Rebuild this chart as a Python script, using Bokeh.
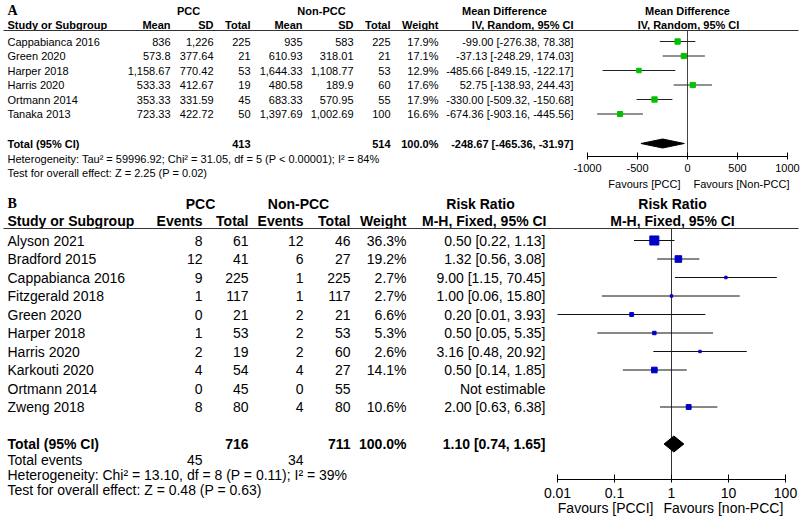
import math
from bokeh.plotting import figure
from bokeh.models import (Range1d, LinearAxis, LogAxis, LinearScale, LogScale,
                          FixedTicker, CustomJSTickFormatter)
from bokeh.core.properties import value
from bokeh.embed import file_html
from bokeh.resources import INLINE

# ---------------- Panel A data (Mean Difference) ----------------
studies_a = ["Cappabianca 2016", "Green 2020", "Harper 2018", "Harris 2020",
             "Ortmann 2014", "Tanaka 2013"]
pcc_mean_a = ["836", "573.8", "1,158.67", "533.33", "353.33", "723.33"]
pcc_sd_a = ["1,226", "377.64", "770.42", "412.67", "331.59", "422.72"]
pcc_total_a = [225, 21, 53, 19, 45, 50]
non_mean_a = ["935", "610.93", "1,644.33", "480.58", "683.33", "1,397.69"]
non_sd_a = ["583", "318.01", "1,108.77", "189.9", "570.95", "1,002.69"]
non_total_a = [225, 21, 53, 60, 55, 100]
weight_a = [17.9, 17.1, 12.9, 17.6, 17.9, 16.6]
md_a = [-99.00, -37.13, -485.66, 52.75, -330.00, -674.36]
md_lo_a = [-276.38, -248.29, -849.15, -138.93, -509.32, -903.16]
md_hi_a = [78.38, 174.03, -122.17, 244.43, -150.68, -445.56]
pooled_a = [-248.67, -465.36, -31.97]      # estimate, lower, upper
totals_a = [413, 514]
het_a = "Heterogeneity: Tau² = 59996.92; Chi² = 31.05, df = 5 (P < 0.00001); I² = 84%"
test_a = "Test for overall effect: Z = 2.25 (P = 0.02)"
ticks_a = [-1000, -500, 0, 500, 1000]

# ---------------- Panel B data (Risk Ratio) ----------------
studies_b = ["Alyson 2021", "Bradford 2015", "Cappabianca 2016", "Fitzgerald 2018",
             "Green 2020", "Harper 2018", "Harris 2020", "Karkouti 2020",
             "Ortmann 2014", "Zweng 2018"]
pcc_events_b = [8, 12, 9, 1, 0, 1, 2, 4, 0, 8]
pcc_total_b = [61, 41, 225, 117, 21, 53, 19, 54, 45, 80]
non_events_b = [12, 6, 1, 1, 2, 2, 2, 4, 0, 4]
non_total_b = [46, 27, 225, 117, 21, 53, 60, 27, 55, 80]
weight_b = [36.3, 19.2, 2.7, 2.7, 6.6, 5.3, 2.6, 14.1, None, 10.6]
rr_b = [0.50, 1.32, 9.00, 1.00, 0.20, 0.50, 3.16, 0.50, None, 2.00]
rr_lo_b = [0.22, 0.56, 1.15, 0.06, 0.01, 0.05, 0.48, 0.14, None, 0.63]
rr_hi_b = [1.13, 3.08, 70.45, 15.80, 3.93, 5.35, 20.92, 1.85, None, 6.38]
pooled_b = [1.10, 0.74, 1.65]
totals_b = [716, 711]
events_b = [45, 34]
het_b = "Heterogeneity: Chi² = 13.10, df = 8 (P = 0.11); I² = 39%"
test_b = "Test for overall effect: Z = 0.48 (P = 0.63)"
ticks_b = [0.01, 0.1, 1, 10, 100]

# ---------------- layout (picture pixel coordinates) ----------------
X0, Y0, W, H = 0, 0, 800, 520
FONT = "Liberation Sans"
SERIF = "Liberation Serif"
FS_A, FS_B = 11, 14
# panel A
A_H1, A_H2, A_LINE = 10, 24, 30
A_ROW0, A_STEP = 41, 14.5
A_TOTAL, A_HET, A_TEST = 143, 158.5, 172.5
A_AXIS, A_FAV = 156, 183
MD_ZERO_X, MD_PX = 687, 0.1
# panel B
B_H1, B_H2, B_LINE = 203, 220, 228
B_ROW0, B_STEP = 240, 18.5
B_TOTAL, B_EVENTS, B_HET, B_TEST = 443.5, 459, 474, 489
B_AXIS, B_FAV = 479, 507
RR_ONE_X, RR_DEC = 671, 57

p = figure(width=W, height=H, x_range=Range1d(X0, X0 + W), y_range=Range1d(Y0 + H, Y0),
           x_axis_type=None, y_axis_type=None, output_backend="svg",
           toolbar_location=None, min_border=0, outline_line_color=None)
p.grid.grid_line_color = None
p.extra_x_ranges = {
    "md": Range1d((X0 - MD_ZERO_X) / MD_PX, (X0 + W - MD_ZERO_X) / MD_PX),
    "rr": Range1d(10 ** ((X0 - RR_ONE_X) / RR_DEC), 10 ** ((X0 + W - RR_ONE_X) / RR_DEC)),
}
p.extra_x_scales = {"md": LinearScale(), "rr": LogScale()}


def txt(x, y, texts, align="left", size=FS_A, bold=False, font=FONT):
    n = len(texts)
    xs = x if isinstance(x, list) else [x] * n
    ys = y if isinstance(y, list) else [y] * n
    p.text(x=xs, y=ys, text=[str(t) for t in texts], text_align=align,
           text_baseline="middle", text_font=value(font),
           text_font_size=f"{size}px", text_font_style="bold" if bold else "normal",
           text_color="black")


# ======================= PANEL A =======================
ya = [A_ROW0 + i * A_STEP for i in range(len(studies_a))]
txt(7, A_H1, ["A"], size=14, bold=True, font=SERIF)
txt(188, A_H1, ["PCC"], "center", bold=True)
txt(321, A_H1, ["Non-PCC"], "center", bold=True)
txt(504, A_H1, ["Mean Difference"], "center", bold=True)
txt(687, A_H1, ["Mean Difference"], "center", bold=True)
txt(7, A_H2, ["Study or Subgroup"], bold=True)
for x, lab in [(170, "Mean"), (213, "SD"), (250, "Total"), (302, "Mean"), (353, "SD"),
               (390, "Total"), (438, "Weight"), (573, "IV, Random, 95% CI")]:
    txt(x, A_H2, [lab], "right", bold=True)
txt(688, A_H2, ["IV, Random, 95% CI"], "center", bold=True)
p.segment(x0=[3], x1=[798], y0=[A_LINE], y1=[A_LINE], line_color="#333333", line_width=1)

txt(7, ya, studies_a)
txt(170, ya, pcc_mean_a, "right")
txt(213, ya, pcc_sd_a, "right")
txt(250, ya, pcc_total_a, "right")
txt(302, ya, non_mean_a, "right")
txt(353, ya, non_sd_a, "right")
txt(390, ya, non_total_a, "right")
txt(438, ya, [f"{w:.1f}%" for w in weight_a], "right")
txt(573, ya, [f"{m:.2f} [{l:.2f}, {h:.2f}]" for m, l, h in zip(md_a, md_lo_a, md_hi_a)], "right")

txt(7, A_TOTAL, ["Total (95% CI)"], bold=True)
txt(250, A_TOTAL, [totals_a[0]], "right", bold=True)
txt(390, A_TOTAL, [totals_a[1]], "right", bold=True)
txt(438, A_TOTAL, ["100.0%"], "right", bold=True)
txt(573, A_TOTAL, ["{:.2f} [{:.2f}, {:.2f}]".format(*pooled_a)], "right", bold=True)
txt(7, A_HET, [het_a])
txt(7, A_TEST, [test_a])

# forest A
p.segment(x0=[0], x1=[0], y0=[A_LINE], y1=[A_AXIS], x_range_name="md", line_color="#444444")
p.segment(x0=md_lo_a, x1=md_hi_a, y0=ya, y1=ya, x_range_name="md", line_color="#222222")
p.scatter(x=md_a, y=ya, marker="square", size=[1.25 * math.sqrt(w) for w in weight_a],
          x_range_name="md", fill_color="#00c000", line_color="#00c000")
p.patch(x=[pooled_a[1], pooled_a[0], pooled_a[2], pooled_a[0]],
        y=[A_TOTAL, A_TOTAL - 4.5, A_TOTAL, A_TOTAL + 4.5],
        x_range_name="md", fill_color="black", line_color="black")
ax_a = LinearAxis(x_range_name="md", fixed_location=A_AXIS, bounds=(ticks_a[0], ticks_a[-1]),
                  ticker=FixedTicker(ticks=ticks_a),
                  formatter=CustomJSTickFormatter(code="return tick.toString()"))
ax_a.major_tick_in = 4
ax_a.major_tick_out = 3
ax_a.minor_tick_in = 0
ax_a.minor_tick_out = 0
ax_a.major_label_standoff = 4
ax_a.major_label_text_font = FONT
ax_a.major_label_text_font_size = f"{FS_A}px"
ax_a.major_label_text_color = "black"
ax_a.axis_line_color = "black"
ax_a.major_tick_line_color = "black"
p.add_layout(ax_a, "below")
txt(680, A_FAV, ["Favours [PCC]"], "right")
txt(693, A_FAV, ["Favours [Non-PCC]"], "left")

# ======================= PANEL B =======================
yb = [B_ROW0 + i * B_STEP for i in range(len(studies_b))]
txt(7, B_H1, ["B"], size=14, bold=True, font=SERIF)
txt(200, B_H1, ["PCC"], "center", size=FS_B, bold=True)
txt(298, B_H1, ["Non-PCC"], "center", size=FS_B, bold=True)
txt(480, B_H1, ["Risk Ratio"], "center", size=FS_B, bold=True)
txt(672, B_H1, ["Risk Ratio"], "center", size=FS_B, bold=True)
txt(7, B_H2, ["Study or Subgroup"], size=FS_B, bold=True)
for x, lab in [(202, "Events"), (248, "Total"), (303, "Events"), (350, "Total"),
               (406, "Weight"), (546, "M-H, Fixed, 95% CI")]:
    txt(x, B_H2, [lab], "right", size=FS_B, bold=True)
txt(672, B_H2, ["M-H, Fixed, 95% CI"], "center", size=FS_B, bold=True)
p.segment(x0=[3], x1=[798], y0=[B_LINE], y1=[B_LINE], line_color="#333333", line_width=1)

txt(7, yb, studies_b, size=FS_B)
txt(202, yb, pcc_events_b, "right", size=FS_B)
txt(248, yb, pcc_total_b, "right", size=FS_B)
txt(303, yb, non_events_b, "right", size=FS_B)
txt(350, yb, non_total_b, "right", size=FS_B)
txt(406, yb, ["" if w is None else f"{w:.1f}%" for w in weight_b], "right", size=FS_B)
txt(545, yb, ["Not estimable" if r is None else f"{r:.2f} [{l:.2f}, {h:.2f}]"
              for r, l, h in zip(rr_b, rr_lo_b, rr_hi_b)], "right", size=FS_B)

txt(7, B_TOTAL, ["Total (95% CI)"], size=FS_B, bold=True)
txt(248, B_TOTAL, [totals_b[0]], "right", size=FS_B, bold=True)
txt(350, B_TOTAL, [totals_b[1]], "right", size=FS_B, bold=True)
txt(406, B_TOTAL, ["100.0%"], "right", size=FS_B, bold=True)
txt(545, B_TOTAL, ["{:.2f} [{:.2f}, {:.2f}]".format(*pooled_b)], "right", size=FS_B, bold=True)
txt(7, B_EVENTS, ["Total events"], size=FS_B)
txt(202, B_EVENTS, [events_b[0]], "right", size=FS_B)
txt(303, B_EVENTS, [events_b[1]], "right", size=FS_B)
txt(7, B_HET, [het_b], size=FS_B)
txt(7, B_TEST, [test_b], size=FS_B)

# forest B
est = [i for i, r in enumerate(rr_b) if r is not None]
p.segment(x0=[1], x1=[1], y0=[B_LINE], y1=[B_AXIS], x_range_name="rr", line_color="#333333")
p.segment(x0=[rr_lo_b[i] for i in est], x1=[rr_hi_b[i] for i in est],
          y0=[yb[i] for i in est], y1=[yb[i] for i in est], x_range_name="rr", line_color="#111111")
p.scatter(x=[rr_b[i] for i in est], y=[yb[i] for i in est], marker="square",
          size=[1.5 * math.sqrt(weight_b[i]) for i in est], x_range_name="rr",
          fill_color="#0000c8", line_color="#0000c8")
p.patch(x=[pooled_b[1], pooled_b[0], pooled_b[2], pooled_b[0]],
        y=[B_TOTAL, B_TOTAL - 8, B_TOTAL, B_TOTAL + 8],
        x_range_name="rr", fill_color="black", line_color="black")
ax_b = LogAxis(x_range_name="rr", fixed_location=B_AXIS, bounds=(ticks_b[0], ticks_b[-1]),
               ticker=FixedTicker(ticks=ticks_b),
               formatter=CustomJSTickFormatter(code="return tick.toString()"))
ax_b.major_tick_in = 5
ax_b.major_tick_out = 3
ax_b.minor_tick_in = 0
ax_b.minor_tick_out = 0
ax_b.major_label_standoff = 5
ax_b.major_label_text_font = FONT
ax_b.major_label_text_font_size = f"{FS_B}px"
ax_b.major_label_text_color = "black"
ax_b.axis_line_color = "black"
ax_b.major_tick_line_color = "black"
p.add_layout(ax_b, "below")
txt(653, B_FAV, ["Favours [PCCI]"], "right", size=FS_B)
txt(663, B_FAV, ["Favours [non-PCC]"], "left", size=FS_B)

open("out.html", "w").write(file_html(p, INLINE))
